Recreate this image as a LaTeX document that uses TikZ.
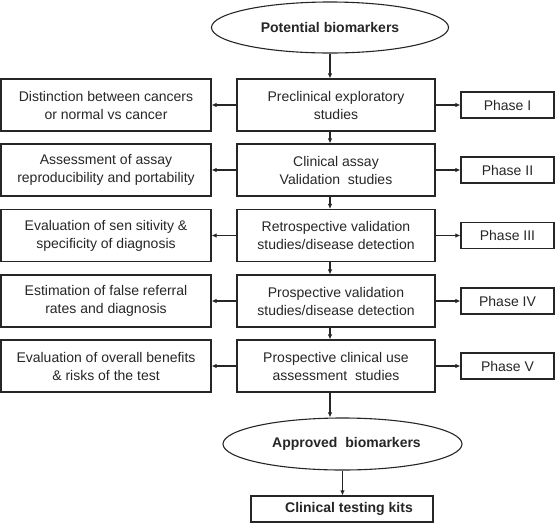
\documentclass[tikz,border=0pt]{standalone}
\usepackage{fontspec}
\setmainfont{Liberation Sans}
\usetikzlibrary{shapes.geometric,arrows.meta}
\definecolor{ink}{HTML}{262626}
\tikzset{
  box/.style={draw=ink, line width=1.1pt, text=ink, align=center, inner sep=0pt,
    font=\fontsize{14pt}{18pt}\selectfont},
  midbox/.style={box, minimum width=198pt, minimum height=52pt},
  leftbox/.style={box, minimum width=210pt, minimum height=52pt},
  phasebox/.style={box, minimum width=93pt, minimum height=26pt},
  oval/.style={box, ellipse, font=\fontsize{14pt}{18pt}\selectfont\bfseries},
  arr/.style={draw=ink, line width=1.1pt, -{Latex[length=5pt,width=4.5pt]}}
}
\begin{document}
\begin{tikzpicture}[x=1pt,y=-1pt]
\useasboundingbox (0,0) rectangle (555,523);
\node[oval, minimum width=237pt, minimum height=51pt] (pot) at (330,27.5) {Potential biomarkers};

\node[midbox] (p1) at (336,105) {Preclinical exploratory\\studies};
\node[midbox] (p2) at (336,170) {Clinical assay\\Validation\ \ studies};
\node[midbox] (p3) at (336,235.5) {Retrospective validation\\studies/disease detection};
\node[midbox] (p4) at (336,301) {Prospective validation\\studies/disease detection};
\node[midbox] (p5) at (336,366) {Prospective clinical use\\assessment\ \ studies};

\node[leftbox] (l1) at (106,105) {Distinction between cancers\\or normal vs cancer};
\node[leftbox] (l2) at (106,170) {Assessment of assay\\reproducibility and portability};
\node[leftbox] (l3) at (106,235.5) {Evaluation of sen sitivity \&\\specificity of diagnosis};
\node[leftbox] (l4) at (106,301) {Estimation of false referral\\rates and diagnosis};
\node[leftbox] (l5) at (106,366) {Evaluation of overall benefits\\\& risks of the test};

\node[phasebox] (h1) at (507.5,105) {Phase I};
\node[phasebox] (h2) at (507.5,170) {Phase II};
\node[phasebox] (h3) at (507.5,235.5) {Phase III};
\node[phasebox] (h4) at (507.5,301) {Phase IV};
\node[phasebox] (h5) at (507.5,366) {Phase V};

\node[oval, minimum width=239pt, minimum height=52pt] (appr) at (342.5,444) {\hspace*{8pt}Approved\ \ biomarkers};
\node[phasebox, minimum width=182pt, font=\fontsize{14pt}{18pt}\selectfont\bfseries] (kits) at (342,509) {\hspace*{14pt}Clinical testing kits};

\draw[arr] (pot.south) -- (p1.north -| pot.south);
\draw[arr] (p1.south -| pot.south) -- (p2.north -| pot.south);
\draw[arr] (p2.south -| pot.south) -- (p3.north -| pot.south);
\draw[arr] (p3.south -| pot.south) -- (p4.north -| pot.south);
\draw[arr] (p4.south -| pot.south) -- (p5.north -| pot.south);
\draw[arr] (p5.south -| pot.south) -- (appr.north -| pot.south);
\draw[arr] (appr.south) -- (kits.north -| appr.south);

\foreach \i in {1,...,5}{
  \draw[arr] (p\i.west) -- (l\i.east);
  \draw[arr] (p\i.east) -- (h\i.west);
}
\end{tikzpicture}
\end{document}
